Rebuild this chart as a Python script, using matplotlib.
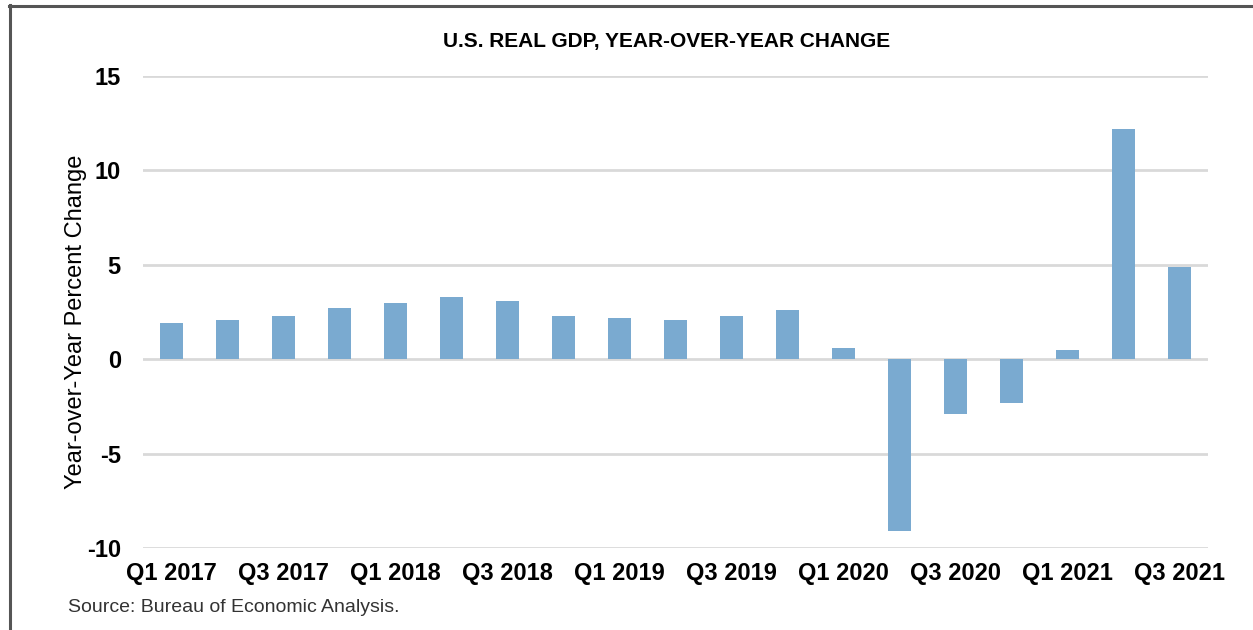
import numpy as np
import matplotlib.pyplot as plt
from matplotlib.lines import Line2D

quarters = ["Q1 2017", "Q2 2017", "Q3 2017", "Q4 2017",
            "Q1 2018", "Q2 2018", "Q3 2018", "Q4 2018",
            "Q1 2019", "Q2 2019", "Q3 2019", "Q4 2019",
            "Q1 2020", "Q2 2020", "Q3 2020", "Q4 2020",
            "Q1 2021", "Q2 2021", "Q3 2021"]
gdp_yoy = [1.9, 2.1, 2.3, 2.7, 3.0, 3.3, 3.1, 2.3, 2.2, 2.1, 2.3, 2.6,
           0.6, -9.1, -2.9, -2.3, 0.5, 12.2, 4.9]
y_ticks = [-10, -5, 0, 5, 10, 15]

bar_color = "#7aaad0"
grid_color = "#d9d9d9"

fig = plt.figure(figsize=(12.53, 6.30), dpi=100)
ax = fig.add_axes([143 / 1253, 1 - 548 / 630, (1208 - 143) / 1253, (548 - 76) / 630])

x = np.arange(len(quarters))
ax.bar(x, gdp_yoy, width=0.41, color=bar_color, zorder=3)

ax.set_xlim(-0.5, len(quarters) - 0.5)
ax.set_ylim(-10, 15)
ax.set_yticks(y_ticks)
ax.set_yticklabels([str(v) for v in y_ticks], fontsize=17, fontweight="bold",
                   family="Liberation Sans")
ax.yaxis.grid(True, color=grid_color, linewidth=2)
ax.set_axisbelow(True)
ax.tick_params(axis="y", length=0, pad=16)
ax.tick_params(axis="x", length=0, pad=10)

# every other quarter is labelled
ax.set_xticks(x[::2])
ax.set_xticklabels(quarters[::2], fontsize=17, fontweight="bold",
                   family="Liberation Sans")

for s in ax.spines.values():
    s.set_visible(False)

ax.set_ylabel("Year-over-Year Percent Change", fontsize=17,
              family="Liberation Sans")
ax.yaxis.set_label_coords(-0.053, 0.479)

fig.text(0.532, 1 - 41 / 630, "U.S. REAL GDP, YEAR-OVER-YEAR CHANGE",
         ha="center", va="center", fontsize=15, fontweight="bold",
         family=["Liberation Sans Narrow", "Liberation Sans"])
fig.text(68 / 1253, 1 - 607 / 630, "Source: Bureau of Economic Analysis.",
         ha="left", va="center", fontsize=14, color="#333333",
         family="Liberation Sans")

# page frame: top and left edges
fig.add_artist(Line2D([9 / 1253, 1], [1 - 5.5 / 630, 1 - 5.5 / 630],
                      color="#555555", linewidth=2.2, transform=fig.transFigure))
fig.add_artist(Line2D([9.5 / 1253, 9.5 / 1253], [0, 1 - 5 / 630],
                      color="#555555", linewidth=2.2, transform=fig.transFigure))

fig.savefig("out.png", dpi=100)
